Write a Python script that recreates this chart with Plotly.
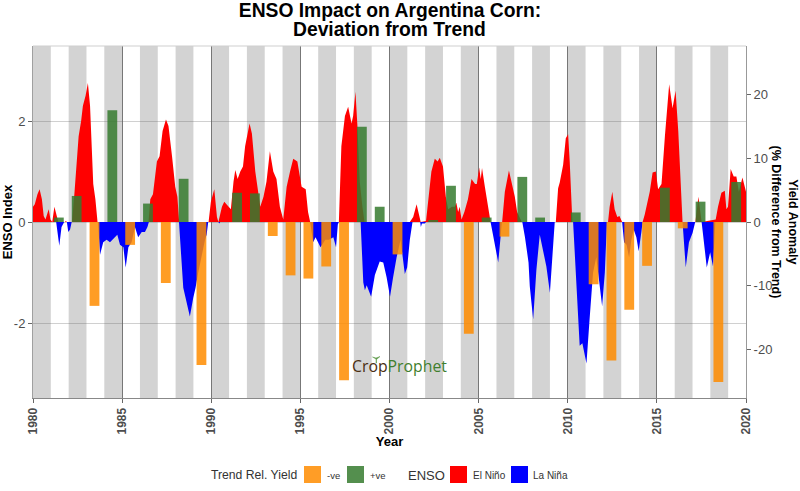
import plotly.graph_objects as go

# ---- data ----
nino_t = [1980.0,1980.1,1980.25,1980.37,1980.5,1980.6,1980.7,1980.88,1980.98,1981.08,1981.2,1981.33,1981.42,
 1981.78,1981.85,1981.9,1982.19,1982.32,1982.45,1982.56,1982.7,1982.8,1982.95,1983.08,1983.2,1983.27,1983.38,1983.5,1983.62,
 1986.48,1986.58,1986.73,1986.85,1986.95,1987.1,1987.27,1987.46,1987.6,1987.8,1987.98,1988.1,1988.2,
 1989.85,1989.98,1990.17,1990.32,1990.4,1990.5,1990.6,1990.73,1990.97,1991.1,1991.25,1991.35,1991.48,1991.63,1991.78,1991.9,1992.15,1992.28,1992.47,1992.65,1992.75,1992.93,1993.1,1993.29,1993.48,1993.66,1993.85,1994.04,1994.23,1994.42,1994.6,1994.83,1995.07,1995.3,1995.43,1995.55,
 1997.16,1997.3,1997.4,1997.5,1997.68,1997.87,1997.96,1998.09,1998.2,1998.33,1998.48,1998.6,
 2001.14,2001.33,2001.52,2001.7,2001.75,2002.05,2002.2,2002.35,2002.54,2002.7,2002.82,2003.0,2003.16,2003.29,2003.5,2003.66,2003.75,2003.85,2003.94,2004.04,2004.2,2004.4,2004.6,2004.8,2004.9,2005.03,2005.12,2005.19,2005.35,2005.54,2005.67,
 2006.32,2006.47,2006.7,2006.85,2007.03,2007.16,2007.42,
 2009.33,2009.46,2009.55,2009.74,2009.89,2010.02,2010.11,2010.26,
 2012.26,2012.35,2012.5,2012.63,2012.78,2012.9,2013.05,
 2014.2,2014.32,2014.42,2014.6,2014.76,2014.94,2015.07,2015.26,2015.45,2015.69,2015.88,2016.05,2016.2,2016.33,2016.44,
 2017.16,2017.33,2017.51,
 2018.3,2018.43,2018.62,2018.81,2018.9,2018.99,2019.14,2019.31,2019.46,2019.6,2019.8,2020.0]
nino_v = [0.3,0.35,0.55,0.65,0.45,0.12,0.05,0.25,0.05,0.0,0.3,0.1,0.0,
 0.0,0.02,0.0,0.0,0.55,1.1,1.7,2.0,2.3,2.5,2.75,2.3,1.6,0.75,0.45,0.0,
 0.0,0.45,0.55,0.95,1.2,1.3,1.8,2.03,1.9,1.3,0.7,0.5,0.0,
 0.0,0.4,0.65,0.1,0.0,0.15,0.3,0.4,0.3,0.25,0.8,1.03,0.85,1.0,1.1,1.5,1.95,1.75,1.0,0.5,0.3,0.5,0.8,1.4,1.0,0.85,0.3,0.05,0.7,1.0,1.25,1.2,0.7,0.65,0.2,0.0,
 0.0,1.5,1.85,2.1,2.28,1.95,2.1,2.58,1.9,0.8,0.3,0.0,
 0.0,0.1,0.35,0.1,0.0,0.02,0.5,1.0,1.25,1.2,1.27,1.1,0.5,0.25,0.3,0.3,0.38,0.2,0.3,0.05,0.2,0.45,0.85,0.75,0.75,1.08,0.85,1.07,0.7,0.25,0.0,
 0.0,0.6,1.02,0.8,0.5,0.2,0.0,
 0.0,0.67,0.78,1.13,1.66,1.74,1.2,0.0,
 0.0,0.3,0.6,0.25,0.1,0.12,0.0,
 0.0,0.15,0.3,0.6,0.98,1.0,0.65,0.75,1.7,2.73,2.25,2.6,1.8,0.7,0.0,
 0.0,0.5,0.0,
 0.05,0.3,0.58,0.62,0.25,0.3,1.05,0.9,0.9,0.6,0.88,0.6]

nina_t = [1981.3,1981.4,1981.475,1981.6,1981.75,1981.9,1981.98,1982.08,1982.17,
 1983.65,1983.76,1983.94,1984.13,1984.32,1984.6,1984.73,1984.88,1985.07,1985.2,1985.35,1985.53,1985.72,1985.9,1986.1,1986.28,1986.42,1986.5,
 1988.19,1988.43,1988.62,1988.8,1988.99,1989.12,1989.27,1989.46,1989.65,1989.74,1989.83,
 1990.4,1990.45,1990.5,
 1995.55,1995.63,1995.72,1995.85,1996.13,1996.4,1996.6,1996.85,1997.0,1997.1,1997.16,
 1998.38,1998.53,1998.62,1998.72,1998.97,1999.18,1999.45,1999.65,1999.84,2000.03,2000.2,2000.4,2000.62,2000.73,2000.86,2000.99,2001.14,2001.29,
 2001.72,2001.76,2001.82,2001.98,2002.05,
 2005.67,2005.9,2006.1,2006.23,2006.3,
 2007.45,2007.6,2007.8,2007.87,2008.06,2008.24,2008.43,2008.62,2008.8,2009.0,2009.14,2009.27,
 2010.3,2010.5,2010.67,2010.82,2011.05,2011.23,2011.42,2011.6,2011.8,2011.93,2012.08,2012.2,
 2013.05,2013.16,2013.3,2013.44,2013.57,2013.7,2013.85,2013.98,2014.13,2014.2,
 2016.44,2016.62,2016.8,2017.0,2017.15,
 2017.51,2017.8,2017.99,2018.15,2018.28]
nina_v = [0.0,-0.35,-0.47,-0.1,0.0,0.0,-0.2,-0.15,0.0,
 0.0,-0.65,-0.4,-0.35,-0.4,-0.3,-0.25,-0.45,-0.5,-0.9,-0.5,-0.4,-0.1,-0.3,-0.2,-0.2,-0.1,0.0,
 0.0,-1.3,-1.6,-1.87,-1.5,-1.3,-1.0,-0.65,-0.35,-0.25,0.0,
 0.0,-0.03,0.0,
 0.0,-0.2,-0.4,-0.3,-0.5,-0.35,-0.35,-0.3,-0.5,-0.05,0.0,
 0.0,-1.2,-1.35,-1.25,-1.48,-1.05,-0.78,-0.8,-1.1,-1.48,-1.1,-0.7,-0.35,-0.7,-1.03,-0.9,-0.35,0.0,
 0.0,-0.1,-0.03,-0.03,0.0,
 0.0,-0.4,-0.8,-0.3,0.0,
 0.0,-0.3,-0.8,-1.27,-1.93,-0.95,-0.25,-0.55,-0.88,-1.4,-0.75,0.0,
 0.0,-1.3,-2.45,-2.4,-2.8,-1.9,-1.0,-0.7,-1.3,-1.67,-1.0,0.0,
 0.0,-0.4,-0.45,-0.7,-0.35,-0.15,-0.3,-0.58,-0.2,0.0,
 0.0,-0.9,-0.4,-0.22,0.0,
 0.0,-0.9,-0.6,-0.88,0.0]

neg_years = [1983.45,1985.45,1987.45,1989.45,1993.45,1994.45,1995.45,1996.45,1997.45,2000.45,2004.45,2006.45,2011.45,2012.45,2013.45,2014.45,2016.45,2018.45]
neg_yield = [-13.2,-3.6,-9.6,-22.5,-2.2,-8.4,-8.9,-7.0,-24.9,-5.1,-17.6,-2.3,-9.8,-21.8,-13.8,-6.9,-1.0,-25.2]
pos_years = [1981.45,1982.45,1984.45,1986.45,1988.45,1991.45,1992.45,1998.45,1999.45,2002.45,2003.45,2005.45,2007.45,2008.45,2010.45,2015.45,2017.45,2019.45]
pos_yield = [0.7,4.1,17.6,2.9,6.8,4.6,4.5,15.0,2.4,0.3,5.7,0.7,7.1,0.7,1.5,5.4,3.2,6.3]

band_starts = list(range(1980, 2020, 2))
x_ticks = list(range(1980, 2021, 5))
y_ticks = [-2, 0, 2]
y_labels = ["-2", "0", "2"]
y2_ticks = [-20, -10, 0, 10, 20]
y2_labels = ["-20", "-10", "0", "10", "20"]

W, H = 800, 491
L, R, T, B = 33, 746, 46, 398
px = lambda v: (v - L) / (R - L)
py = lambda v: (B - v) / (B - T)

FONT = "Liberation Sans"
fig = go.Figure()
fig.add_trace(go.Scatter(x=nino_t, y=nino_v, mode="lines", line=dict(width=0, color="#FF0000"),
                         fill="tozeroy", fillcolor="#FF0000", name="El Niño", showlegend=False, yaxis="y"))
fig.add_trace(go.Scatter(x=nina_t, y=nina_v, mode="lines", line=dict(width=0, color="#0000FF"),
                         fill="tozeroy", fillcolor="#0000FF", name="La Niña", showlegend=False, yaxis="y"))
fig.add_trace(go.Bar(x=neg_years, y=neg_yield, width=0.55, marker=dict(color="#FF8C00", line_width=0),
                     opacity=0.85, name="-ve", showlegend=False, yaxis="y2"))
fig.add_trace(go.Bar(x=pos_years, y=pos_yield, width=0.55, marker=dict(color="rgb(54,123,47)", line_width=0),
                     opacity=0.85, name="+ve", showlegend=False, yaxis="y2"))

shapes = [dict(type="rect", xref="x", yref="paper", x0=s, x1=s + 1, y0=0, y1=1,
               fillcolor="#D3D3D3", line_width=0, layer="below") for s in band_starts]

# light top edge of the panel
shapes.append(dict(type="line", xref="paper", yref="paper", x0=0, x1=1, y0=1, y1=1,
                   line=dict(color="#CFCFCF", width=1), layer="above"))

def swatch(x0, color):
    return dict(type="rect", xref="paper", yref="paper", x0=px(x0), x1=px(x0 + 17), y0=py(483), y1=py(466),
                fillcolor=color, line_width=0, layer="above")
shapes += [swatch(304, "#FF9D26"), swatch(347, "#548F4E"), swatch(450, "#FF0000"), swatch(511, "#0000FF")]

# sprout of the logo
shapes.append(dict(type="path", xref="paper", yref="paper",
    path=f"M {px(376)} {py(363)} L {px(376)} {py(359)} L {px(372.5)} {py(357)} L {px(376)} {py(358)} L {px(380)} {py(356.5)} L {px(376.5)} {py(359.5)} L {px(376.5)} {py(363)} Z",
    fillcolor="#5E9A4A", line=dict(color="#5E9A4A", width=0.5), layer="above"))

def label(x, y, text, size, color="#333333", anchor="left", family=FONT, weight=None, angle=0):
    f = dict(family=family, size=size, color=color)
    if weight:
        f["weight"] = weight
    return dict(xref="paper", yref="paper", x=px(x), y=py(y), text=text, textangle=angle,
                showarrow=False, xanchor=anchor, yanchor="middle", borderpad=0, borderwidth=0, font=f)

annotations = [
    label(389.5, 29.5, "<b>Deviation from Trend</b>", 19.3, color="#000000", anchor="center"),
    label(784.5, 222, "<b>Yield Anomaly<br>(% Difference from Trend)</b>", 12.5, color="#000000", anchor="center", angle=90),
    label(211, 475, "Trend Rel. Yield", 12.2),
    label(327, 475, "-ve", 9.5),
    label(370, 475, "+ve", 9.5),
    label(408, 475, "ENSO", 13),
    label(473, 475, "El Niño", 10),
    label(533, 475, "La Niña", 10),
    label(352, 366, "<span style='color:#4A2E12'>Crop</span><span style='color:#3F7F2E'>Prophet</span>", 15.8, family="Open Sans"),
]

fig.update_layout(
    width=W, height=H, autosize=False,
    margin=dict(l=L, r=W - R, t=T, b=H - B, pad=0, autoexpand=False),
    paper_bgcolor="white", plot_bgcolor="white",
    barmode="overlay", showlegend=False,
    font=dict(family=FONT, color="#000000"),
    title=dict(text="<b>ENSO Impact on Argentina Corn:</b>", x=390 / W, xanchor="center",
               y=1 - 10 / H, yref="container", yanchor="middle", font=dict(family=FONT, size=19.3, color="#000000")),
    xaxis=dict(range=[1980, 2020], tickmode="array", tickvals=x_ticks, ticktext=[str(v) for v in x_ticks],
               tickangle=-90, tickfont=dict(family=FONT, size=12, color="#4D4D4D", weight="bold"),
               ticks="outside", ticklen=4, tickcolor="#666666", automargin=False,
               showgrid=True, gridcolor="#777777", gridwidth=1, zeroline=False,
               showline=True, linecolor="#888888", linewidth=1,
               title=dict(text="<b>Year</b>", font=dict(family=FONT, size=13, color="#000000"), standoff=2)),
    yaxis=dict(range=[-3.485, 3.485], tickmode="array", tickvals=y_ticks, ticktext=y_labels,
               tickfont=dict(family=FONT, size=13, color="#4D4D4D"),
               ticks="outside", ticklen=4, tickcolor="#666666", automargin=False,
               showgrid=True, gridcolor="rgba(100,100,100,0.3)", gridwidth=1, zeroline=False,
               showline=True, linecolor="#A0A0A0", linewidth=1,
               title=dict(text="<b>ENSO Index</b>", font=dict(family=FONT, size=13, color="#000000"))),
    yaxis2=dict(range=[-27.7, 27.7], overlaying="y", side="right", tickmode="array", tickvals=y2_ticks, ticktext=y2_labels,
                tickfont=dict(family=FONT, size=13, color="#4D4D4D"),
                ticks="outside", ticklen=4, tickcolor="#666666", automargin=False,
                showgrid=False, zeroline=False, showline=True, linecolor="#999999", linewidth=1),
    shapes=shapes, annotations=annotations,
)

fig.write_html("out.html", config={"displayModeBar": False}, post_script="document.body.style.margin='0';")
